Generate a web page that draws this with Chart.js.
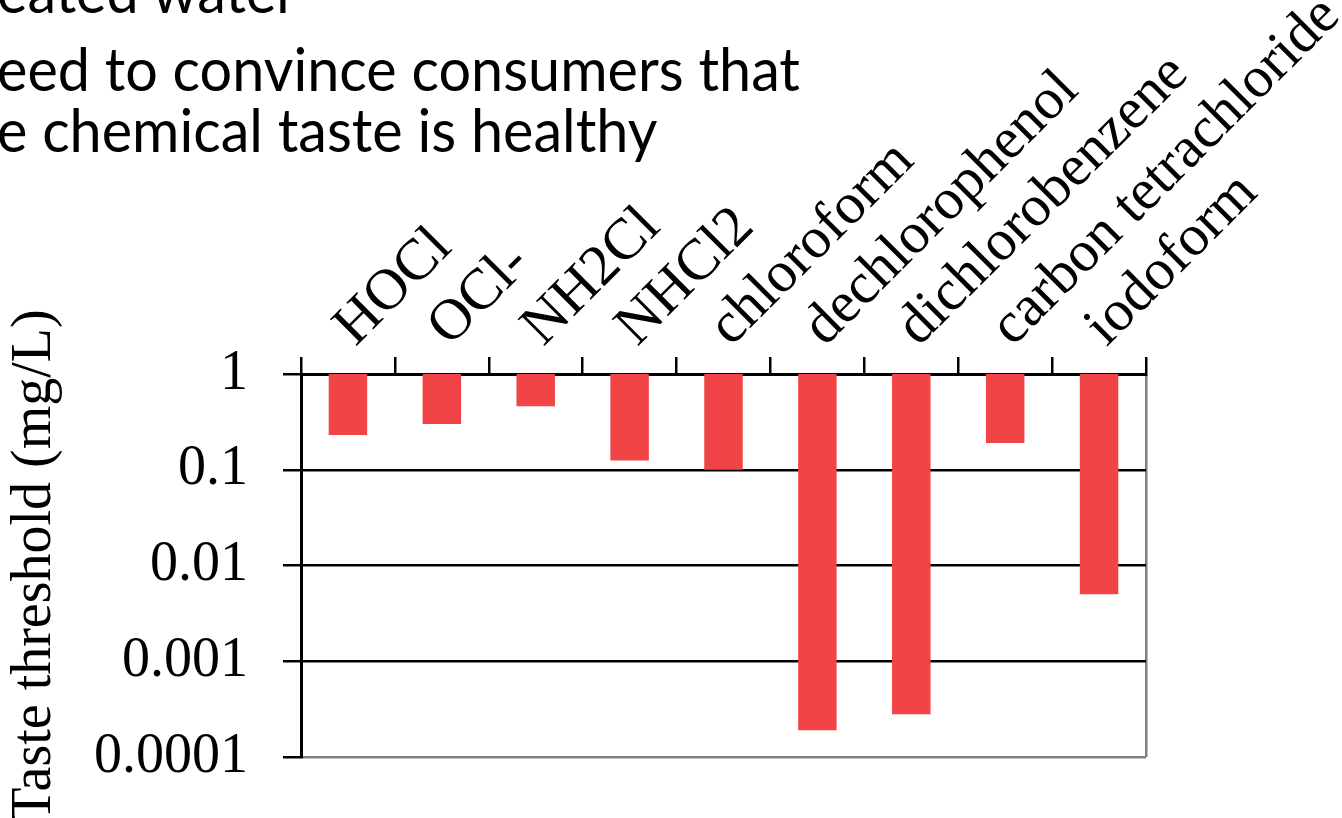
<!DOCTYPE html>
<html>
<head>
<meta charset="utf-8">
<script src="https://cdn.jsdelivr.net/npm/chart.js@4"></script>
<style>
  html, body { margin: 0; padding: 0; background: #fff; overflow: hidden; }
  #wrap { position: relative; width: 1342px; height: 818px; }
  #chartBox { position: absolute; left: 0; top: 0; width: 1342px; height: 818px; }
  .line {
    position: absolute; left: -3px; white-space: nowrap;
    font-family: Lato, sans-serif; font-size: 60px; line-height: 60px;
    color: #000; transform-origin: 0 0;
  }
</style>
</head>
<body>
<div id="wrap">
  <div id="chartBox"><canvas id="tasteChart"></canvas></div>
  <div class="line" id="l1" style="top:-40px">eated water</div>
  <div class="line" id="l2" style="top:38px">eed to convince consumers that</div>
  <div class="line" id="l3" style="top:99px">e chemical taste is healthy</div>
</div>
<script>
const categories = ['HOCl', 'OCl-', 'NH2Cl', 'NHCl2', 'chloroform', 'dechlorophenol', 'dichlorobenzene', 'carbon tetrachloride', 'iodoform'];
const thresholds = [0.23, 0.3, 0.46, 0.125, 0.1, 0.00019, 0.00028, 0.19, 0.005];
const tickValues = [0.0001, 0.001, 0.01, 0.1, 1];
const tickLabels = ['0.0001', '0.001', '0.01', '0.1', '1'];
const barTop = 1;

const serif = 'Liberation Serif, Times New Roman, serif';

// squeeze the slide text so it matches the clipped width in the reference
const l2 = document.getElementById('l2');
const fit = 803 / l2.getBoundingClientRect().width;
['l1', 'l2', 'l3'].forEach(id => {
  document.getElementById(id).style.transform = 'scaleX(' + fit + ')';
});

const ctx = document.getElementById('tasteChart').getContext('2d');

new Chart(ctx, {
  type: 'bar',
  data: {
    labels: categories,
    datasets: [{
      data: thresholds.map(v => [v, barTop]),
      backgroundColor: '#F04447',
      borderWidth: 0,
      barPercentage: 0.41,
      categoryPercentage: 1
    }]
  },
  options: {
    responsive: true,
    maintainAspectRatio: false,
    animation: false,
    layout: { padding: { left: 0, top: 0, right: 196, bottom: 61 } },
    plugins: {
      legend: { display: false },
      tooltip: { enabled: false }
    },
    scales: {
      x: {
        type: 'category',
        position: 'top',
        offset: true,
        afterFit: s => {
          s.height = 374;
          s.paddingLeft = s.paddingRight = s.paddingTop = s.paddingBottom = 0;
        },
        grid: {
          offset: true,
          drawOnChartArea: true,
          color: c => c.type === 'tick' ? 'rgba(0,0,0,0)' : '#808080',
          tickColor: '#000',
          lineWidth: 2.5,
          tickLength: 17
        },
        border: { color: '#000', width: 3 },
        ticks: {
          autoSkip: false,
          minRotation: 45,
          maxRotation: 45,
          padding: -4,
          labelOffset: 46,
          color: '#000',
          font: { family: serif, size: 58 }
        }
      },
      y: {
        type: 'logarithmic',
        min: 0.0001,
        max: 1,
        afterFit: s => {
          s.width = 301;
          s.paddingLeft = s.paddingRight = s.paddingTop = s.paddingBottom = 0;
        },
        afterBuildTicks: s => { s.ticks = tickValues.map(v => ({ value: v })); },
        grid: {
          color: c => (c.tick && c.tick.value === tickValues[0]) ? '#808080' : '#000',
          tickColor: '#000',
          lineWidth: 2.5,
          tickLength: 18
        },
        border: { color: '#000', width: 3 },
        ticks: {
          padding: 35,
          color: '#000',
          font: { family: serif, size: 56 },
          callback: v => tickLabels[tickValues.indexOf(v)]
        },
        title: {
          display: true,
          text: 'Taste threshold (mg/L)',
          color: '#000',
          padding: { top: 2, bottom: 0 },
          font: { family: serif, size: 56 }
        }
      }
    }
  }
});
</script>
</body>
</html>
